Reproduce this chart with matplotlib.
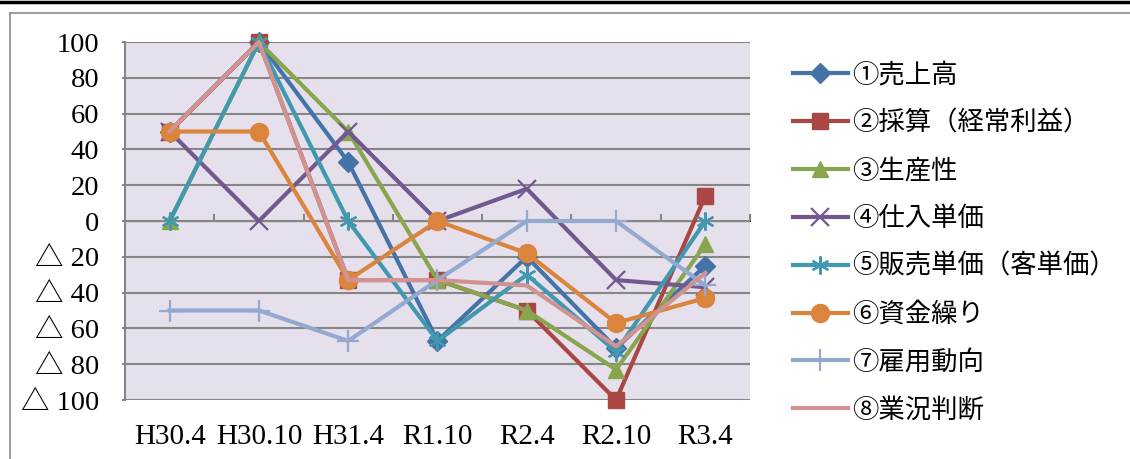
import matplotlib.pyplot as plt
from matplotlib.lines import Line2D

# 調査時期
periods = ["H30.4", "H30.10", "H31.4", "R1.10", "R2.4", "R2.10", "R3.4"]

# DI values
uriage = [50, 100, 33, -67, -20, -71, -25]
saisan = [50, 100, -33, -33, -50, -100, 14]
seisansei = [0, 100, 50, -33, -50, -83, -13]
shiire = [50, 0, 50, 0, 18, -33, -37]
hanbai = [0, 100, 0, -67, -30, -73, 0]
shikin = [50, 50, -33, 0, -18, -57, -43]
koyou = [-50, -50, -67, -33, 0, 0, -36]
gyoukyou = [50, 100, -33, -33, -36, -70, -29]

labels = ["①売上高", "②採算（経常利益）", "③生産性", "④仕入単価",
          "⑤販売単価（客単価）", "⑥資金繰り", "⑦雇用動向", "⑧業況判断"]
series = [uriage, saisan, seisansei, shiire, hanbai, shikin, koyou, gyoukyou]
colors = ["#4572A7", "#AA4643", "#89A54E", "#71588F",
          "#4198AF", "#DB843D", "#93A9CF", "#D19392"]
markers = ["D", "s", "^", "x", (6, 2, 0), "o", "+", None]
msizes = [10, 12, 12, 13, 13, 13, 16, 0]

yticks = [100, 80, 60, 40, 20, 0, -20, -40, -60, -80, -100]
ytick_labels = ["100", "80", "60", "40", "20", "0",
                "△ 20", "△ 40", "△ 60", "△ 80", "△ 100"]

serif = ["Liberation Serif", "Noto Sans CJK JP", "DejaVu Serif"]
jp = ["Noto Sans CJK JP", "DejaVu Sans"]

fig = plt.figure(figsize=(11.3, 4.59), dpi=100)
ax = fig.add_axes([125 / 1130, 1 - 400 / 459, 625 / 1130, 358 / 459])
ax.set_facecolor("#E5E0EC")

x = list(range(len(periods)))
for i, vals in enumerate(series):
    m = markers[i]
    ax.plot(x, vals, color=colors[i], lw=3, marker=m, ms=msizes[i],
            mew=1.6 if m in ("x", "+", (6, 2, 0)) else 1,
            mec=colors[i], mfc=colors[i], label=labels[i],
            zorder=3 + i, clip_on=False, solid_joinstyle="round")

ax.set_xlim(-0.5, 6.5)
ax.set_ylim(-100, 100)
ax.set_yticks(yticks)
ax.set_yticklabels(ytick_labels, family=serif, fontsize=20.5)
ax.set_xticks(x)
ax.set_xticklabels(periods, family=serif, fontsize=21)
ax.tick_params(axis="x", length=0, pad=17)
ax.tick_params(axis="y", length=2.5, color="#868686", width=1.5, pad=16)
ax.yaxis.grid(True, color="#868686", lw=1.5)
ax.set_axisbelow(True)
for s in ["top", "right", "bottom"]:
    ax.spines[s].set_visible(False)
ax.spines["left"].set_color("#868686")
ax.spines["left"].set_linewidth(1.5)

# category axis crossing at zero
zax = ax.secondary_xaxis(0.5)
zax.set_xticks([0.5, 1.5, 2.5, 3.5, 4.5, 5.5, 6.5])
zax.set_xticklabels([])
zax.tick_params(axis="x", direction="out", length=5, width=1.5, color="#868686")
zax.spines["bottom"].set_color("#868686")
zax.spines["bottom"].set_linewidth(1.5)

fig.legend(loc="upper left", bbox_to_anchor=(782 / 1130, 1 - 51 / 459),
           frameon=False, prop={"family": jp, "size": 19},
           handlelength=2.1, handletextpad=0.15, labelspacing=0.79,
           borderaxespad=0)

# page frame
fig.add_artist(Line2D([0, 1], [1 - 1.5 / 459, 1 - 1.5 / 459], color="black", lw=2.5))
fig.add_artist(Line2D([10 / 1130, 1], [1 - 13 / 459, 1 - 13 / 459], color="#8c8c8c", lw=1.2))
fig.add_artist(Line2D([10 / 1130, 10 / 1130], [0, 1 - 13 / 459], color="#8c8c8c", lw=1.2))

fig.savefig("out.png", dpi=100)
